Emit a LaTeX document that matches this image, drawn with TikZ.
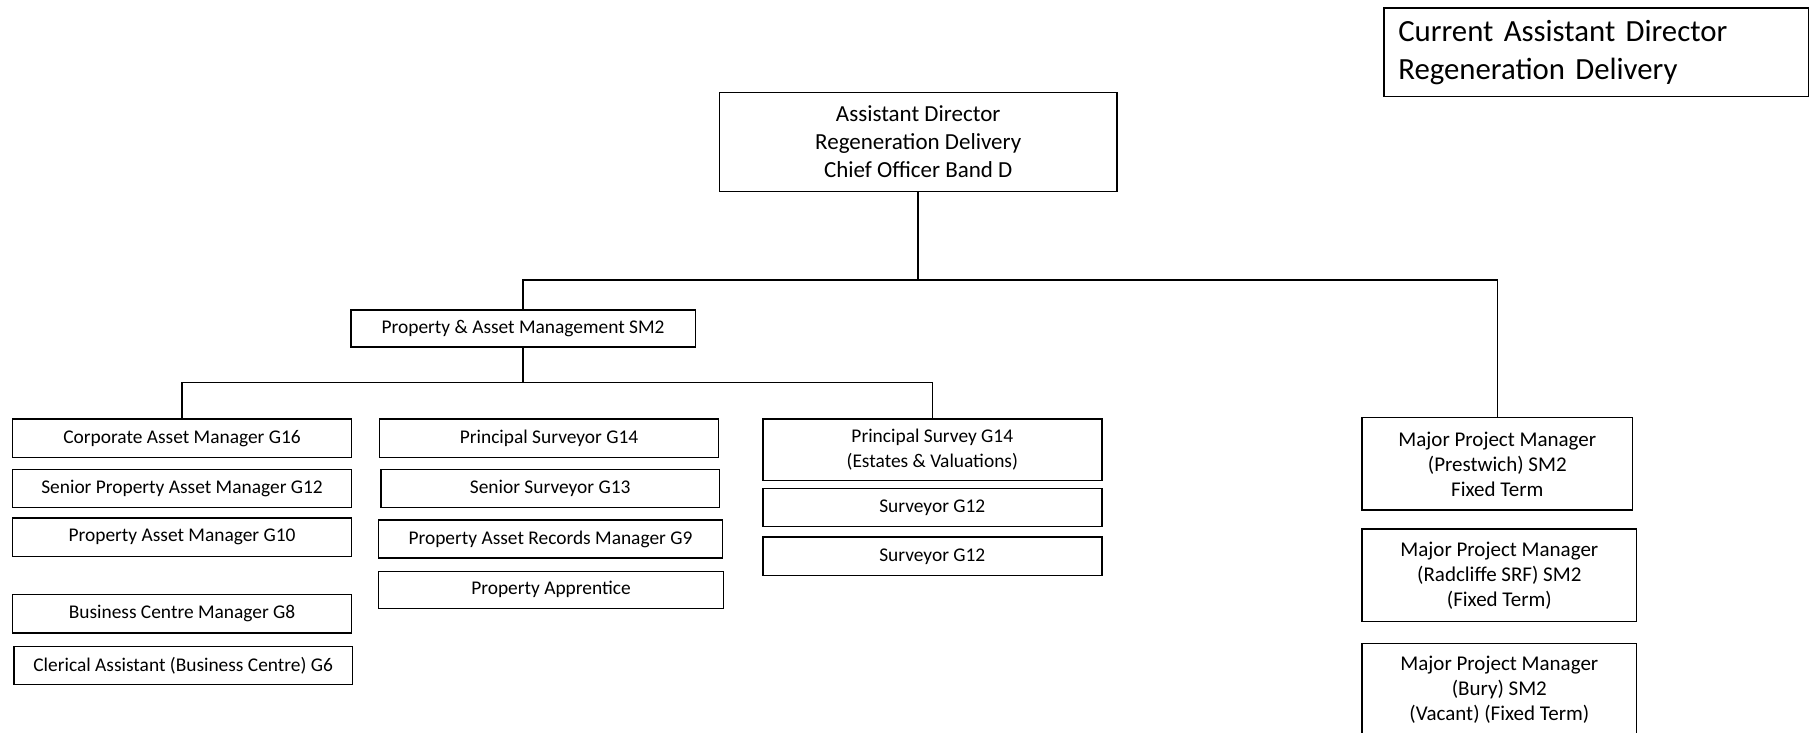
\documentclass[tikz,border=0pt]{standalone}
\usepackage{fontspec}
\setmainfont{Carlito}
\begin{document}
\begin{tikzpicture}[x=0.5pt,y=-0.5pt,
  place/.style n args={4}{at={({(#1+#3)/2},{(#2+#4)/2})},
    minimum width={(#3-#1)*0.5pt}, minimum height={(#4-#2)*0.5pt}},
  bx/.style={draw=black, line width=0.75pt, inner sep=0pt, align=center, text=black,
    font=\fontsize{9.7}{12.2}\selectfont},
  bigbx/.style={bx, font=\fontsize{11.5}{14}\selectfont},
  mpm/.style={bx, font=\fontsize{10.5}{12.5}\selectfont},
  link/.style={draw=black, line width=0.75pt}]
\useasboundingbox (0,0) rectangle (1811,733);
% legend
\node[bx, place={1384}{8}{1808.6}{96.7}, align=left, text width=198pt,
  font=\fontsize{15.4}{19}\selectfont] (cur) {Current Assistant Director\\Regeneration Delivery};
% top
\node[bigbx, place={719.6}{92.3}{1116.8}{191.7}] (top) {Assistant Director\\Regeneration Delivery\\Chief Officer Band D};
\node[bx, place={350.8}{310}{695.3}{347}] (pam) {Property \& Asset Management SM2};
% column 1
\node[bx, place={12.7}{419}{351.4}{457.3}] (c1a) {Corporate Asset Manager G16};
\node[bx, place={12.7}{469.3}{351.4}{507.7}] (c1b) {Senior Property Asset Manager G12};
\node[bx, place={12.7}{518}{351.4}{556.7}] (c1c) {Property Asset Manager G10};
\node[bx, place={12.7}{594.3}{351.4}{633}] (c1d) {Business Centre Manager G8};
\node[bx, place={13.8}{646.3}{352.6}{684.7}] (c1e) {Clerical Assistant (Business Centre) G6};
% column 2
\node[bx, place={379.7}{419}{718.4}{457.3}] (c2a) {Principal Surveyor G14};
\node[bx, place={380.8}{469.3}{719.6}{507.7}] (c2b) {Senior Surveyor G13};
\node[bx, place={378.5}{520}{722.4}{558}] (c2c) {Property Asset Records Manager G9};
\node[bx, place={378.5}{571.3}{723.6}{608.3}] (c2d) {Property Apprentice};
% column 3
\node[bx, place={762.8}{419}{1101.8}{480.3}] (c3a) {Principal Survey G14\\(Estates \& Valuations)};
\node[bx, place={762.8}{488.3}{1101.8}{526.7}] (c3b) {Surveyor G12};
\node[bx, place={762.8}{537}{1101.8}{575.7}] (c3c) {Surveyor G12};
% column 4
\node[mpm, place={1362}{417.7}{1632.6}{510}] (m1) {Major Project Manager\\(Prestwich) SM2\\Fixed Term};
\node[mpm, place={1362}{529}{1636.7}{621.7}] (m2) {Major Project Manager\\(Radcliffe SRF) SM2\\(Fixed Term)};
\node[mpm, place={1362}{643.3}{1636.7}{735.5}] (m3) {Major Project Manager\\(Bury) SM2\\(Vacant) (Fixed Term)};
% connectors
\coordinate (busA) at (0,280);
\coordinate (busB) at (0,382.3);
\draw[link] (top.south) -- (top.south |- busA);
\draw[link] (pam.north) |- (m1.north |- busA) -- (m1.north);
\draw[link] (pam.south) -- (pam.south |- busB);
\draw[link] (c1a.north) |- (c3a.north |- busB) -- (c3a.north);
\end{tikzpicture}
\end{document}
